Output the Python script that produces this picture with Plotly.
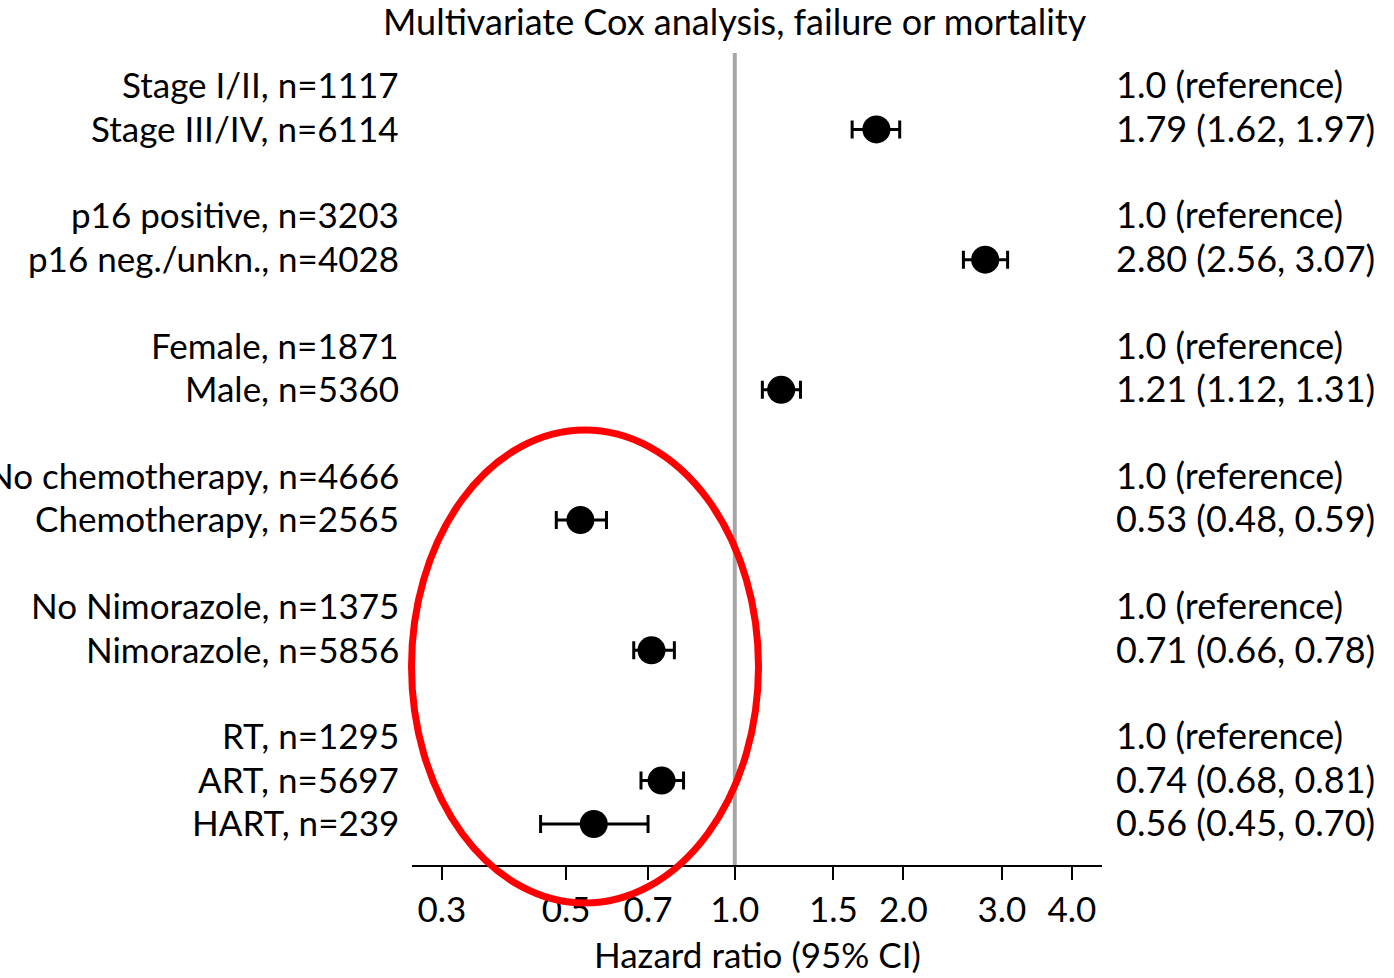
import plotly.graph_objects as go

# Forest plot rows (top to bottom); reference categories have no CI
labels = [
    "Stage I/II, n=1117", "Stage III/IV, n=6114",
    "p16 positive, n=3203", "p16 neg./unkn., n=4028",
    "Female, n=1871", "Male, n=5360",
    "No chemotherapy, n=4666", "Chemotherapy, n=2565",
    "No Nimorazole, n=1375", "Nimorazole, n=5856",
    "RT, n=1295", "ART, n=5697", "HART, n=239",
]
row_pos = [0, 1, 3, 4, 6, 7, 9, 10, 12, 13, 15, 16, 17]
is_reference = [True, False, True, False, True, False, True, False, True, False, True, False, False]
hazard_ratio = [1.0, 1.79, 1.0, 2.80, 1.0, 1.21, 1.0, 0.53, 1.0, 0.71, 1.0, 0.74, 0.56]
ci_low = [None, 1.62, None, 2.56, None, 1.12, None, 0.48, None, 0.66, None, 0.68, 0.45]
ci_high = [None, 1.97, None, 3.07, None, 1.31, None, 0.59, None, 0.78, None, 0.81, 0.70]

tick_vals = [0.3, 0.5, 0.7, 1.0, 1.5, 2.0, 3.0, 4.0]
tick_text = ["0.3", "0.5", "0.7", "1.0", "1.5", "2.0", "3.0", "4.0"]

FONT = "Lato"
W, H = 1394, 978
L, R, T, B = 412, 292, 53, 113
PW, PH = W - L - R, H - T - B


def px_x(px):
    return (px - L) / PW


def px_y(py):
    return (H - B - py) / PH


est_idx = [i for i, ref in enumerate(is_reference) if not ref]
x_est = [hazard_ratio[i] for i in est_idx]
y_est = [row_pos[i] for i in est_idx]
err_plus = [ci_high[i] - hazard_ratio[i] for i in est_idx]
err_minus = [hazard_ratio[i] - ci_low[i] for i in est_idx]

fig = go.Figure()
fig.add_trace(go.Scatter(
    x=x_est, y=y_est, mode="markers",
    marker=dict(size=28, color="black", line=dict(width=0)),
    error_x=dict(type="data", symmetric=False, array=err_plus, arrayminus=err_minus,
                 color="black", thickness=3, width=9),
    showlegend=False, hoverinfo="skip",
))

annotations = []
for i, lab in enumerate(labels):
    annotations.append(dict(
        x=px_x(401), xref="paper", y=row_pos[i] - 0.04, yref="y", text=lab,
        xanchor="right", yanchor="middle", showarrow=False,
        font=dict(family=FONT, size=35, color="black"),
    ))
    if is_reference[i]:
        txt = f"{hazard_ratio[i]:.1f} (reference)"
    else:
        txt = f"{hazard_ratio[i]:.2f} ({ci_low[i]:.2f}, {ci_high[i]:.2f})"
    annotations.append(dict(
        x=px_x(1114), xref="paper", y=row_pos[i] - 0.04, yref="y", text=txt,
        xanchor="left", yanchor="middle", showarrow=False,
        font=dict(family=FONT, size=36, color="black"),
    ))

annotations.append(dict(
    x=px_x(735), y=px_y(21), xref="paper", yref="paper",
    text="Multivariate Cox analysis, failure or mortality",
    xanchor="center", yanchor="middle", showarrow=False,
    font=dict(family=FONT, size=36, color="black"),
))
annotations.append(dict(
    x=px_x(757), y=px_y(954), xref="paper", yref="paper",
    text="Hazard ratio (95% CI)",
    xanchor="center", yanchor="middle", showarrow=False,
    font=dict(family=FONT, size=35, color="black"),
))

shapes = [
    dict(type="line", x0=1, x1=1, xref="x", y0=0, y1=1, yref="paper",
         line=dict(color="#A6A6A6", width=4), layer="below"),
    dict(type="circle", xref="paper", yref="paper",
         x0=px_x(411.5), x1=px_x(758.5), y0=px_y(903), y1=px_y(430),
         line=dict(color="#FF0000", width=7), layer="above"),
]

fig.update_layout(
    width=W, height=H,
    margin=dict(l=L, r=R, t=T, b=B, pad=0),
    paper_bgcolor="white", plot_bgcolor="white",
    annotations=annotations, shapes=shapes,
    xaxis=dict(
        type="log", range=[-0.5764, 0.6557],
        tickvals=tick_vals, ticktext=tick_text,
        ticks="outside", ticklen=13, tickwidth=2, tickcolor="black",
        showline=True, linewidth=2, linecolor="black",
        showgrid=False, zeroline=False,
        tickfont=dict(family=FONT, size=35, color="black"),
    ),
    yaxis=dict(
        range=[17.945, -0.76], visible=False, showgrid=False, zeroline=False,
    ),
)

fig.write_html("out.html")
